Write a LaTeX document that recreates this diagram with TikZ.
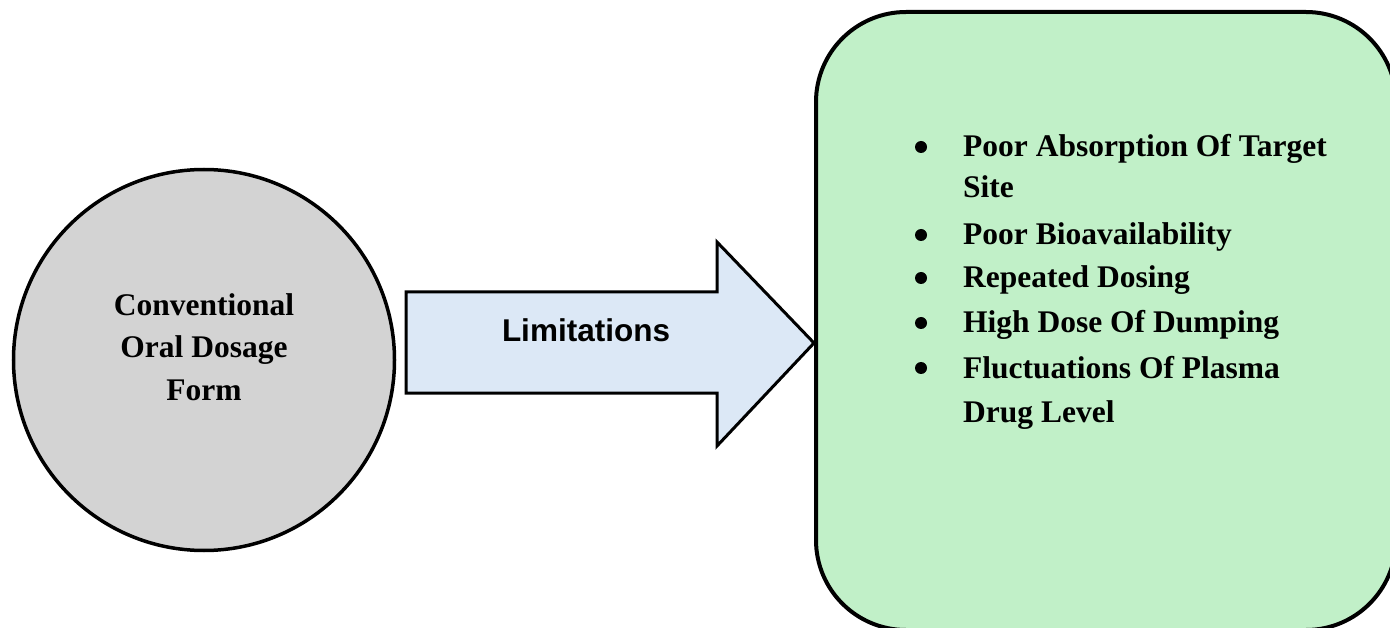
\documentclass[tikz,border=0pt]{standalone}
\usepackage{fontspec}
\setmainfont{Liberation Serif}
\setsansfont{Liberation Sans}
\usetikzlibrary{positioning}

\definecolor{formgray}{RGB}{211,211,211}
\definecolor{limblue}{RGB}{220,232,246}
\definecolor{listgreen}{RGB}{193,240,200}

\tikzset{
  bigtext/.style={font=\fontsize{31.5}{43}\selectfont\bfseries, inner sep=0pt},
  dot/.style={circle, fill=black, minimum size=12pt, inner sep=0pt},
  item/.style={bigtext, anchor=base west, align=left}
}

\begin{document}
\begin{tikzpicture}[x=1pt,y=-1pt]
        \useasboundingbox (0,0) rectangle (1390,628);
        \clip (0,0) rectangle (1390,628);
        % left: the dosage form
        \node[circle, draw, line width=3.5pt, fill=formgray, minimum size=381pt, inner sep=0pt] (form) at (204,360) {};
        \node[bigtext, align=center, anchor=base] (formtext) at (204,400) {Conventional\\[-0.5pt]Oral Dosage\\[-0.5pt]Form};
        % right: the list of limitations
        \node[draw, line width=4pt, fill=listgreen, rounded corners=90pt, minimum width=580pt, minimum height=618pt, inner sep=0pt] (limits) at (1106,321) {};
        % block arrow between them
        \coordinate (tip) at (limits.west |- 0,343);
        \draw[line width=3pt, fill=limblue, line join=miter] (406,292) -- (717,292) -- (717,242) -- (tip) -- (717,446) -- (717,393) -- (406,393) -- cycle;
        \node[font=\fontsize{31.5}{38}\selectfont\sffamily\bfseries, anchor=base, inner sep=0pt] (limtext) at (586,342) {Limitations};
        % items (base = last line)
        \node[dot] (d1) at (921,147) {};
        \node[item] (i1) at (963,198) {Poor Absorption Of Target\\[-2pt]Site};
        \node[dot] (d2) at (921,235) {};
        \node[item] (i2) at (963,245) {Poor Bioavailability};
        \node[dot] (d3) at (921,278) {};
        \node[item] (i3) at (963,288) {Repeated Dosing};
        \node[dot] (d4) at (921,323) {};
        \node[item] (i4) at (963,333) {High Dose Of Dumping};
        \node[dot] (d5) at (921,368) {};
        \node[item] (i5) at (963,422) {Fluctuations Of Plasma\\[1pt]Drug Level};
    \end{tikzpicture}
\end{document}
